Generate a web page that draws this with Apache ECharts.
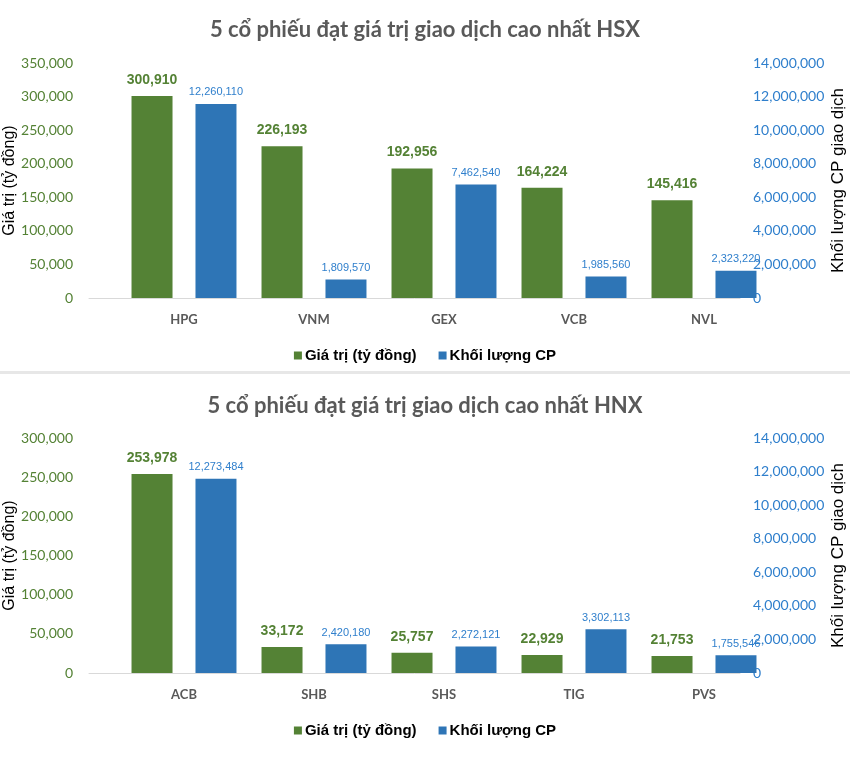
<!DOCTYPE html>
<html>
<head>
<meta charset="utf-8">
<script src="https://cdn.jsdelivr.net/npm/echarts@6/dist/echarts.min.js"></script>
<style>
  html, body { margin: 0; padding: 0; background: #ffffff; }
  #chart { width: 850px; height: 775px; }
</style>
</head>
<body>
<div id="chart"></div>
<script>
// ---- Data ----
const hsxTitle = '5 cổ phiếu đạt giá trị giao dịch cao nhất HSX';
const hsxCategories = ['HPG', 'VNM', 'GEX', 'VCB', 'NVL'];
const hsxValue = [300910, 226193, 192956, 164224, 145416];
const hsxVolume = [12260110, 1809570, 7462540, 1985560, 2323220];

const hnxTitle = '5 cổ phiếu đạt giá trị giao dịch cao nhất HNX';
const hnxCategories = ['ACB', 'SHB', 'SHS', 'TIG', 'PVS'];
const hnxValue = [253978, 33172, 25757, 22929, 21753];
const hnxVolume = [12273484, 2420180, 2272121, 3302113, 1755546];

const seriesNames = ['Giá trị (tỷ đồng)', 'Khối lượng CP'];
const leftAxisName = 'Giá trị (tỷ đồng)';
const rightAxisName = 'Khối lượng CP giao dịch';

// visible tick scales
const hsxValueAxis = { min: 0, max: 350000, interval: 50000 };
const hnxValueAxis = { min: 0, max: 300000, interval: 50000 };
const volumeAxis = { min: 0, max: 14000000, interval: 2000000 };
// scale the volume bars are actually drawn against in the reference (offset secondary axis)
const volumeBarScale = { min: 700000, max: 14700000 };

// ---- Styles ----
const GREEN = '#548235';
const BLUE = '#2E75B6';
const BLUE_LABEL = '#2F7FCC';
const GRAY = '#595959';
const fmt = v => Number(v).toLocaleString('en-US');

const chart = echarts.init(document.getElementById('chart'), null, { renderer: 'canvas' });

function panel(top, valueAxis, categories, values, volumes, idx) {
  const g = idx * 2;       // grid index for bars
  const y = idx * 4;       // yAxis index base
  const grids = [
    { left: 119, top: top, width: 650, height: 235, outerBoundsMode: 'none', containLabel: false },
    { left: 89, top: top, width: 651, height: 235, outerBoundsMode: 'none', containLabel: false }
  ];
  const xAxes = [
    {
      type: 'category', gridIndex: g, data: categories,
      axisLine: { show: false }, axisTick: { show: false },
      axisLabel: { color: GRAY, fontFamily: 'Lato', fontWeight: 'bold', fontSize: 13, margin: 15 }
    },
    {
      type: 'category', gridIndex: g + 1, data: categories,
      axisLine: { show: true, lineStyle: { color: '#D9D9D9', width: 1 } },
      axisTick: { show: false }, axisLabel: { show: false }
    }
  ];
  const yAxes = [
    { type: 'value', gridIndex: g, show: false, min: valueAxis.min, max: valueAxis.max, interval: valueAxis.interval, splitLine: { show: false } },
    { type: 'value', gridIndex: g, show: false, position: 'right', min: volumeBarScale.min, max: volumeBarScale.max, splitLine: { show: false } },
    {
      type: 'value', gridIndex: g + 1, position: 'left',
      min: valueAxis.min, max: valueAxis.max, interval: valueAxis.interval,
      axisLine: { show: false }, axisTick: { show: false }, splitLine: { show: false },
      axisLabel: { color: GREEN, fontFamily: 'Lato', fontSize: 14, margin: 16, formatter: fmt },
      name: leftAxisName, nameLocation: 'middle', nameGap: 71, nameRotate: 90, nameMoveOverlap: false,
      nameTextStyle: { color: '#000000', fontFamily: 'Liberation Sans', fontSize: 16 }
    },
    {
      type: 'value', gridIndex: g + 1, position: 'right',
      min: volumeAxis.min, max: volumeAxis.max, interval: volumeAxis.interval,
      axisLine: { show: false }, axisTick: { show: false }, splitLine: { show: false },
      axisLabel: { color: BLUE_LABEL, fontFamily: 'Lato', fontSize: 14, margin: 13, formatter: fmt },
      name: rightAxisName, nameLocation: 'middle', nameGap: 90, nameRotate: 90, nameMoveOverlap: false,
      nameTextStyle: { color: '#000000', fontFamily: 'Liberation Sans', fontSize: 17 }
    }
  ];
  const series = [
    {
      name: seriesNames[0], type: 'bar', xAxisIndex: g, yAxisIndex: y, data: values,
      barWidth: 41, barGap: '56%',
      itemStyle: { color: GREEN },
      label: { show: true, position: 'top', distance: 9, color: GREEN, fontFamily: 'Liberation Sans', fontWeight: 'bold', fontSize: 14, formatter: p => fmt(p.value) }
    },
    {
      name: seriesNames[1], type: 'bar', xAxisIndex: g, yAxisIndex: y + 1, data: volumes,
      barWidth: 41, barGap: '56%',
      itemStyle: { color: BLUE },
      label: { show: true, position: 'top', distance: 6, color: BLUE_LABEL, fontFamily: 'Liberation Sans', fontSize: 11, formatter: p => fmt(p.value) }
    }
  ];
  return { grids, xAxes, yAxes, series };
}

const p1 = panel(63, hsxValueAxis, hsxCategories, hsxValue, hsxVolume, 0);
const p2 = panel(438, hnxValueAxis, hnxCategories, hnxValue, hnxVolume, 1);

const titleStyle = { color: GRAY, fontFamily: 'Lato', fontWeight: 'bold', fontSize: 22 };
const legendBase = {
  data: seriesNames, left: 'center', icon: 'rect', itemWidth: 8, itemHeight: 8, itemGap: 22,
  selectedMode: false,
  textStyle: { color: '#000000', fontFamily: 'Liberation Sans', fontWeight: 'bold', fontSize: 15, padding: [0, 0, 0, -2] }
};

chart.setOption({
  animation: false,
  backgroundColor: '#ffffff',
  title: [
    { text: hsxTitle, left: 'center', top: 14, textStyle: titleStyle },
    { text: hnxTitle, left: 'center', top: 390, textStyle: titleStyle }
  ],
  legend: [
    Object.assign({}, legendBase, { top: 343 }),
    Object.assign({}, legendBase, { top: 718 })
  ],
  graphic: [
    { type: 'rect', left: 0, top: 371, shape: { width: 850, height: 3 }, style: { fill: '#E7E7E7' }, silent: true }
  ],
  grid: p1.grids.concat(p2.grids),
  xAxis: p1.xAxes.concat(p2.xAxes),
  yAxis: p1.yAxes.concat(p2.yAxes),
  series: p1.series.concat(p2.series)
});
</script>
</body>
</html>
